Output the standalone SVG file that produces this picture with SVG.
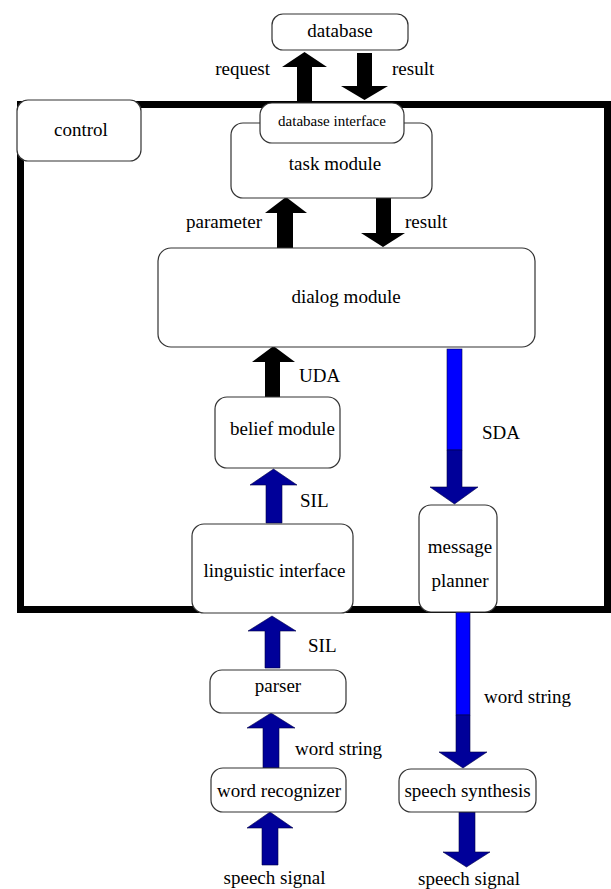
<svg xmlns="http://www.w3.org/2000/svg" width="611" height="889" viewBox="0 0 611 889">
<style>
.box{fill:#fff;stroke:#333;stroke-width:1.2}
.t{font-family:"Liberation Serif","Times New Roman",serif;font-size:19px;fill:#000}
.s{font-size:15px}
.c{text-anchor:middle}
.e{text-anchor:end}
.blk{fill:#000}
.dk{fill:#000099;stroke:#000044;stroke-width:0.6}
.lt{fill:#0000ff;stroke:#000044;stroke-width:0.6}
</style>
<rect id="border" x="20.5" y="104.5" width="587" height="505" fill="none" stroke="#000" stroke-width="7"/>
<g id="connectors">
<polygon class="blk" points="297,101 297,67 282,67 304.5,52 327,67 312,67 312,101"/>
<polygon class="blk" points="357,53 372,53 372,86 388,86 364.5,100 341,86 357,86"/>
<polygon class="blk" points="277,248 277,213 265,213 286,197 307,213 293,213 293,248"/>
<polygon class="blk" points="376,198 391,198 391,233 405,233 383,247 361,233 376,233"/>
<polygon class="blk" points="265,397 265,362 252,362 273.5,346 295,362 280,362 280,397"/>
<polygon class="dk" points="266,523 266,485 250,485 273.5,469 297,485 282,485 282,523"/>
<polygon class="dk" points="265,668 265,631 248,631 272,616 296,631 280,631 280,668"/>
<polygon class="dk" points="263,768 263,728 247,728 271,713 295,728 279,728 279,768"/>
<polygon class="dk" points="262,865 262,828 247,828 270,812 293,828 278,828 278,865"/>
<rect class="lt" x="447" y="349" width="15" height="101"/>
<polygon class="dk" points="447,450 462,450 462,487 478,487 454.5,504 430,487 447,487"/>
<rect class="lt" x="456" y="612" width="14" height="103"/>
<polygon class="dk" points="456,715 470,715 470,752 487,752 463,768 439,752 456,752"/>
<polygon class="dk" points="459,812 475,812 475,852 490,852 466.5,867 443,852 459,852"/>
<text class="t e" x="270" y="75">request</text>
<text class="t" x="392" y="75">result</text>
<text class="t e" x="262" y="228">parameter</text>
<text class="t" x="405" y="228">result</text>
<text class="t" x="299" y="382">UDA</text>
<text class="t" x="300" y="507">SIL</text>
<text class="t" x="482" y="439">SDA</text>
<text class="t" x="308" y="652">SIL</text>
<text class="t" x="295" y="755">word string</text>
<text class="t" x="484" y="703">word string</text>
<text class="t c" x="274.5" y="884">speech signal</text>
<text class="t c" x="469" y="885">speech signal</text>
</g>
<g id="database"><rect class="box" x="272" y="14" width="136" height="36" rx="11"/><text class="t c" x="340" y="37">database</text></g>
<g id="control"><rect class="box" x="17" y="100" width="124" height="61" rx="11"/><text class="t c" x="81" y="136">control</text></g>
<g id="task-module"><rect class="box" x="231" y="123" width="201" height="75" rx="12"/><text class="t c" x="335" y="170">task module</text></g>
<g id="database-interface"><rect class="box" x="260" y="103" width="144" height="40" rx="12"/><text class="t s c" x="332" y="126">database interface</text></g>
<g id="dialog-module"><rect class="box" x="158" y="248" width="377" height="99" rx="13"/><text class="t c" x="346" y="303">dialog module</text></g>
<g id="belief-module"><rect class="box" x="215" y="397" width="125" height="71" rx="12"/><text class="t c" x="282.5" y="435">belief module</text></g>
<g id="linguistic-interface"><rect class="box" x="192" y="524" width="161" height="89" rx="12"/><text class="t c" x="274.5" y="577">linguistic interface</text></g>
<g id="message-planner"><rect class="box" x="419" y="505" width="78" height="107" rx="12"/><text class="t c" x="460" y="553">message</text><text class="t c" x="460" y="587">planner</text></g>
<g id="parser"><rect class="box" x="210" y="670" width="136" height="43" rx="12"/><text class="t c" x="278" y="692">parser</text></g>
<g id="word-recognizer"><rect class="box" x="211" y="768" width="135" height="44" rx="12"/><text class="t c" x="279" y="797">word recognizer</text></g>
<g id="speech-synthesis"><rect class="box" x="399" y="769" width="137" height="43" rx="12"/><text class="t c" x="467.5" y="797">speech synthesis</text></g>
</svg>
